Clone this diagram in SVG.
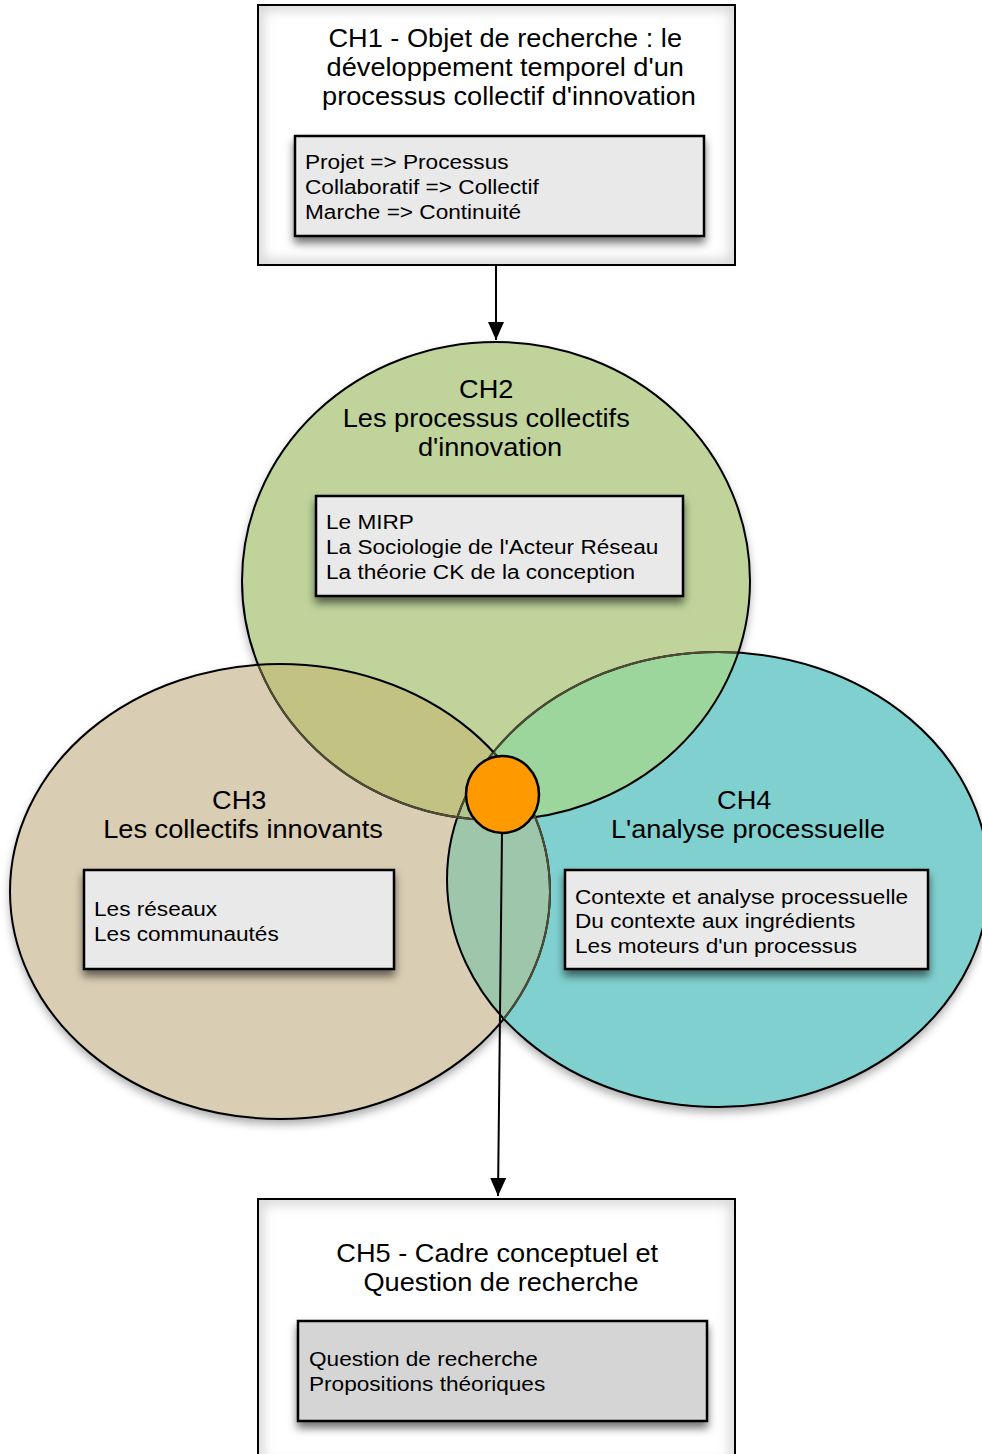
<svg xmlns="http://www.w3.org/2000/svg" width="982" height="1454" viewBox="0 0 982 1454">
  <style>
    .title { font-family: "Liberation Sans", Arial, Helvetica, sans-serif; font-size: 25px; fill: #000; text-anchor: middle; }
    .item { font-family: "Liberation Sans", Arial, Helvetica, sans-serif; font-size: 21px; fill: #000; }
    .frame { fill: #ffffff; stroke: #000; stroke-width: 2; }
    .panel { fill: #e9e9e9; stroke: #000; stroke-width: 2.5; filter: url(#boxShadow); }
    .panel-dark { fill: #d5d5d5; stroke: #000; stroke-width: 2.5; filter: url(#boxShadow); }
    .ring { fill: none; stroke: #000; stroke-width: 2; }
    .ring-muted { fill: none; stroke: #4e4c34; stroke-width: 2; }
    .link { fill: none; stroke: #000; stroke-width: 2; }
  </style>
  <defs>
    <filter id="boxShadow" x="-10%" y="-20%" width="120%" height="160%">
      <feDropShadow dx="0" dy="6" stdDeviation="4" flood-color="#000" flood-opacity="0.55"/>
    </filter>
    <filter id="softShadow" x="-10%" y="-10%" width="120%" height="125%">
      <feDropShadow dx="0" dy="5" stdDeviation="5" flood-color="#000" flood-opacity="0.35"/>
    </filter>
    <filter id="innerBlur" x="-10%" y="-10%" width="120%" height="120%">
      <feGaussianBlur stdDeviation="6"/>
    </filter>
    <clipPath id="clipCh2"><ellipse cx="496" cy="581" rx="254" ry="239"/></clipPath>
    <clipPath id="clipCh3"><ellipse cx="280" cy="891.5" rx="270" ry="227.5"/></clipPath>
    <clipPath id="clipCh4"><ellipse cx="718" cy="879.5" rx="271" ry="227.5"/></clipPath>
    <clipPath id="clipCh1Frame"><rect x="258" y="5" width="477" height="260"/></clipPath>
    <clipPath id="clipCh5Frame"><rect x="258" y="1199" width="477" height="270"/></clipPath>
    <marker id="arrowHead" viewBox="0 0 18 16" refX="18" refY="8" markerWidth="18" markerHeight="16" markerUnits="userSpaceOnUse" orient="auto">
      <path d="M0,0 L18,8 L0,16 Z" fill="#000"/>
    </marker>
  </defs>

  <!-- Venn backgrounds: the three research areas and their overlaps -->
  <g id="venn-fills">
    <g filter="url(#softShadow)">
      <ellipse cx="496" cy="581" rx="254" ry="239" fill="#bfd39b"/>
      <ellipse cx="280" cy="891.5" rx="270" ry="227.5" fill="#d9cdb3"/>
      <ellipse cx="718" cy="879.5" rx="271" ry="227.5" fill="#80d0d0"/>
    </g>
    <ellipse cx="280" cy="891.5" rx="270" ry="227.5" fill="#c2c283" clip-path="url(#clipCh2)"/>
    <ellipse cx="718" cy="879.5" rx="271" ry="227.5" fill="#9cd69c" clip-path="url(#clipCh2)"/>
    <ellipse cx="718" cy="879.5" rx="271" ry="227.5" fill="#9ec6ab" clip-path="url(#clipCh3)"/>
    <g clip-path="url(#clipCh2)">
      <ellipse cx="718" cy="879.5" rx="271" ry="227.5" fill="#b0c490" clip-path="url(#clipCh3)"/>
    </g>
  </g>

  <!-- Venn outlines, softened where they run under another area -->
  <g id="venn-outlines">
    <ellipse class="ring" cx="718" cy="879.5" rx="271" ry="227.5"/>
    <ellipse class="ring-muted" cx="718" cy="879.5" rx="271" ry="227.5" clip-path="url(#clipCh2)"/>
    <ellipse class="ring" cx="496" cy="581" rx="254" ry="239"/>
    <ellipse class="ring-muted" cx="496" cy="581" rx="254" ry="239" clip-path="url(#clipCh3)"/>
    <ellipse class="ring" cx="280" cy="891.5" rx="270" ry="227.5"/>
    <ellipse class="ring-muted" cx="280" cy="891.5" rx="270" ry="227.5" clip-path="url(#clipCh4)"/>
  </g>

  <!-- Connectors -->
  <g id="connectors">
    <line class="link" x1="496" y1="265" x2="496" y2="340" marker-end="url(#arrowHead)"/>
    <line class="link" x1="502" y1="833" x2="498" y2="1196" marker-end="url(#arrowHead)"/>
  </g>

  <!-- CH1 -->
  <g id="ch1">
    <rect class="frame" x="258" y="5" width="477" height="260"/>
    <rect x="258" y="5" width="477" height="260" fill="none" stroke="#d0d0d0" stroke-width="10" filter="url(#innerBlur)" clip-path="url(#clipCh1Frame)"/>
    <rect x="258" y="5" width="477" height="260" fill="none" stroke="#000" stroke-width="2"/>
    <text class="title" transform="translate(509 47) scale(1.088 1)">
      <tspan x="0" dy="0">CH1 - Objet de recherche : le</tspan>
      <tspan x="0" dy="29">développement temporel d'un</tspan>
      <tspan x="0" dy="29">processus collectif d'innovation</tspan>
    </text>
    <rect class="panel" x="295" y="136" width="409" height="100"/>
    <text class="item" transform="translate(305 169) scale(1.077 1)">
      <tspan x="0" dy="0">Projet =&gt; Processus</tspan>
      <tspan x="0" dy="25">Collaboratif =&gt; Collectif</tspan>
      <tspan x="0" dy="25">Marche =&gt; Continuité</tspan>
    </text>
  </g>

  <!-- CH2 -->
  <g id="ch2">
    <text class="title" transform="translate(490 398) scale(1.088 1)">
      <tspan x="0" dy="0">CH2</tspan>
      <tspan x="0" dy="29">Les processus collectifs</tspan>
      <tspan x="0" dy="29">d'innovation</tspan>
    </text>
    <rect class="panel" x="316" y="496" width="367" height="100"/>
    <text class="item" transform="translate(326 529) scale(1.077 1)">
      <tspan x="0" dy="0">Le MIRP</tspan>
      <tspan x="0" dy="25">La Sociologie de l'Acteur Réseau</tspan>
      <tspan x="0" dy="25">La théorie CK de la conception</tspan>
    </text>
  </g>

  <!-- CH3 -->
  <g id="ch3">
    <text class="title" transform="translate(243 809) scale(1.088 1)">
      <tspan x="0" dy="0">CH3</tspan>
      <tspan x="0" dy="29">Les collectifs innovants</tspan>
    </text>
    <rect class="panel" x="84" y="870" width="310" height="99"/>
    <text class="item" transform="translate(94 916) scale(1.077 1)">
      <tspan x="0" dy="0">Les réseaux</tspan>
      <tspan x="0" dy="25">Les communautés</tspan>
    </text>
  </g>

  <!-- CH4 -->
  <g id="ch4">
    <text class="title" transform="translate(748 809) scale(1.088 1)">
      <tspan x="0" dy="0">CH4</tspan>
      <tspan x="0" dy="29">L'analyse processuelle</tspan>
    </text>
    <rect class="panel" x="565" y="870" width="363" height="99"/>
    <text class="item" transform="translate(575 904) scale(1.077 1)">
      <tspan x="0" dy="0">Contexte et analyse processuelle</tspan>
      <tspan x="0" dy="24.5">Du contexte aux ingrédients</tspan>
      <tspan x="0" dy="24.5">Les moteurs d'un processus</tspan>
    </text>
  </g>

  <!-- Intersection hub -->
  <g id="hub">
    <ellipse cx="502.5" cy="794.5" rx="36.5" ry="38.5" fill="#ff9900" stroke="#000" stroke-width="2.5"/>
  </g>

  <!-- CH5 -->
  <g id="ch5">
    <rect class="frame" x="258" y="1199" width="477" height="270"/>
    <rect x="258" y="1199" width="477" height="270" fill="none" stroke="#d0d0d0" stroke-width="10" filter="url(#innerBlur)" clip-path="url(#clipCh5Frame)"/>
    <rect x="258" y="1199" width="477" height="270" fill="none" stroke="#000" stroke-width="2"/>
    <text class="title" transform="translate(501 1262) scale(1.088 1)">
      <tspan x="0" dy="0">CH5 - Cadre conceptuel et</tspan>
      <tspan x="0" dy="29">Question de recherche</tspan>
    </text>
    <rect class="panel-dark" x="298" y="1321" width="409" height="100"/>
    <text class="item" transform="translate(309 1366) scale(1.077 1)">
      <tspan x="0" dy="0">Question de recherche</tspan>
      <tspan x="0" dy="25">Propositions théoriques</tspan>
    </text>
  </g>
</svg>
